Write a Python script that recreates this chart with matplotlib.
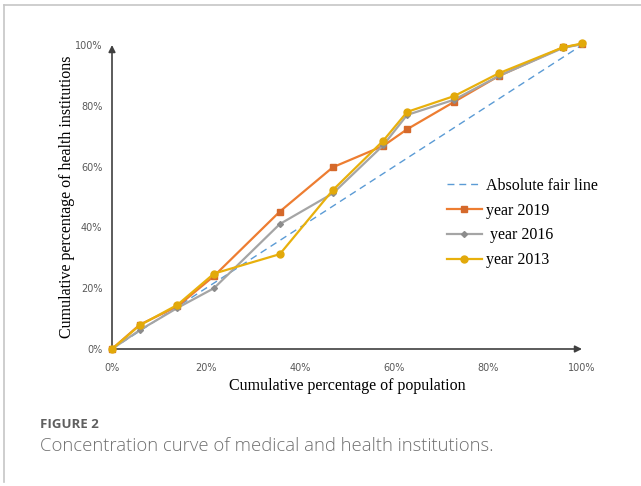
import matplotlib.pyplot as plt
from matplotlib.lines import Line2D

# Cumulative percentage of population (x) and of health institutions (y)
population = [0, 5.9, 13.9, 21.7, 35.7, 47.0, 57.7, 62.8, 72.8, 82.3, 95.9, 100]
year_2019 = [0, 8.0, 14.0, 24.0, 45.2, 59.8, 66.8, 72.3, 81.3, 89.8, 99.2, 100.3]
year_2016 = [0, 6.2, 13.5, 20.0, 41.1, 51.2, 67.0, 77.0, 82.0, 89.8, 99.0, 100.3]
year_2013 = [0, 7.8, 14.5, 24.8, 31.2, 52.3, 68.5, 78.0, 83.2, 90.7, 99.2, 100.5]
fair_line = [0, 100]

ticks = [0, 20, 40, 60, 80, 100]
tick_labels = ['0%', '20%', '40%', '60%', '80%', '100%']

serif = 'Liberation Serif'

fig = plt.figure(figsize=(6.41, 4.86), dpi=100)
ax = fig.add_axes([112 / 641, 1 - 349 / 486, 470 / 641, 304 / 486])

ax.plot(fair_line, fair_line, color='#5B9BD5', linestyle=(0, (5, 3.5)), linewidth=1.0,
        label='Absolute fair line')
ax.plot(population, year_2019, color='#ED7D31', linewidth=1.6, marker='s', markersize=4.5,
        markerfacecolor='#D5692B', markeredgecolor='#D5692B', label='year 2019', clip_on=False)
ax.plot(population, year_2016, color='#A5A5A5', linewidth=1.6, marker='D', markersize=3,
        markerfacecolor='#8C8C8C', markeredgecolor='#8C8C8C', label=' year 2016', clip_on=False)
ax.plot(population, year_2013, color='#E8B00C', linewidth=1.6, marker='o', markersize=5,
        markerfacecolor='#E2A90A', markeredgecolor='#E2A90A', label='year 2013', clip_on=False)

ax.set_xlim(0, 100)
ax.set_ylim(0, 100)
for s in ax.spines.values():
    s.set_visible(False)

# axis arrows
ax.annotate('', xy=(1.0, 0), xytext=(0, 0), xycoords='axes fraction',
            arrowprops=dict(arrowstyle='-|>', color='#404040', lw=1.2, mutation_scale=10,
                            shrinkA=0, shrinkB=0), zorder=0)
ax.annotate('', xy=(0, 1.0), xytext=(0, 0), xycoords='axes fraction',
            arrowprops=dict(arrowstyle='-|>', color='#404040', lw=1.2, mutation_scale=10,
                            shrinkA=0, shrinkB=0), zorder=0)

ax.set_xticks(ticks)
ax.set_xticklabels(tick_labels)
ax.set_yticks(ticks)
ax.set_yticklabels(tick_labels)
ax.tick_params(length=0, labelsize=7, labelcolor='#595959')
ax.tick_params(axis='x', pad=10)
ax.tick_params(axis='y', pad=7)

ax.set_xlabel('Cumulative percentage of population', fontfamily=serif, fontsize=11.5, labelpad=4)
ax.set_ylabel('Cumulative percentage of health institutions', fontfamily=serif, fontsize=11.5,
              labelpad=0)

ax.legend(loc='upper left', bbox_to_anchor=(0.699, 0.584), frameon=False,
          prop={'family': serif, 'size': 11.5}, handlelength=2.2, handletextpad=0.25,
          labelspacing=0.55, borderaxespad=0)

# caption below the chart
fig.text(40 / 641, 1 - 425 / 486, 'FIGURE 2', fontfamily='Open Sans', fontsize=9.5,
         color='#5f5f5f', va='center', fontweight='bold')
fig.text(40 / 641, 1 - 446 / 486, 'Concentration curve of medical and health institutions.',
         fontfamily='Open Sans', fontsize=13.3, color='#707070', va='center', fontweight='light')

# page frame (top and left)
fig.add_artist(Line2D([4 / 641, 1], [1 - 5 / 486, 1 - 5 / 486], color='#c6c6c6', lw=1.2))
fig.add_artist(Line2D([4 / 641, 4 / 641], [1 - 5 / 486, 1 - 482 / 486], color='#c6c6c6', lw=1.2))

plt.savefig('out.png', dpi=100)
